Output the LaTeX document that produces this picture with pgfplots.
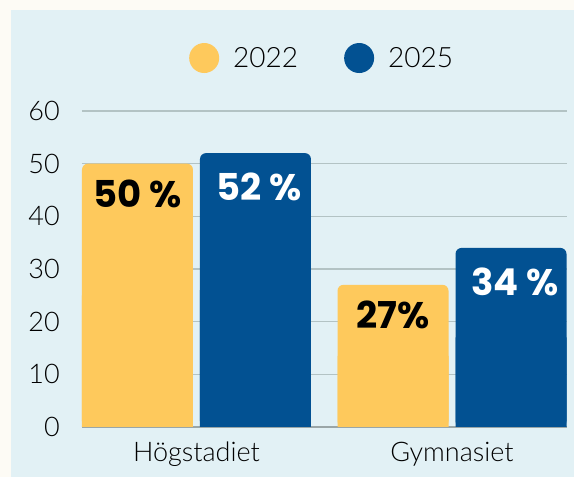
\documentclass[border=0pt]{standalone}
\usepackage{pgfplots}
\pgfplotsset{compat=1.18}
\usepackage{fontspec}
\newfontfamily\lightfont{Lato Light}
\newfontfamily\labfont{Poppins}

\definecolor{bgout}{HTML}{FDFBF5}
\definecolor{panel}{HTML}{E2F1F5}
\definecolor{yel}{HTML}{FEC95C}
\definecolor{navy}{HTML}{025192}
\definecolor{gridc}{HTML}{B3C3C4}
\definecolor{basec}{HTML}{9AA6A7}

\begin{document}
\begin{tikzpicture}
\useasboundingbox (0pt,0pt) rectangle (574pt,477pt);
\fill[bgout] (0pt,0pt) rectangle (574pt,477pt);
\fill[panel] (11pt,0pt) rectangle (574pt,467pt);
\begin{axis}[
    at={(82pt,50pt)}, anchor=south west,
    scale only axis, width=485pt, height=316pt,
    xmin=-0.448, xmax=1.450, ymin=0, ymax=60,
    clip=false,
    ybar, bar width=111pt,
    xtick={0,1}, xticklabels={Högstadiet,Gymnasiet},
    ytick={0,10,...,60},
    major tick length=0pt,
    tick style={draw=none},
    axis line style={draw=none},
    ymajorgrids=true,
    major grid style={gridc, line width=1.2pt},
    extra y ticks={0}, extra y tick labels={},
    extra y tick style={major grid style={basec, line width=2pt}},
    /pgf/number format/assume math mode=true,
    yticklabel style={font=\lightfont\fontsize{27}{27}\selectfont, inner sep=0pt, xshift=-22pt},
    xticklabel style={font=\lightfont\fontsize{27}{27}\selectfont, inner sep=0pt, yshift=-15pt},
    legend style={at={(0.2206,1.1677)}, anchor=west, draw=none, fill=none,
        inner sep=0pt, legend columns=2,
        font=\lightfont\fontsize{28}{28}\selectfont,
        nodes={inner sep=0pt},
        /tikz/every odd column/.append style={column sep=14pt},
        /tikz/every even column/.append style={column sep=46pt}},
]
% square lower halves so only the tops look rounded
\addplot[fill=yel, draw=none, bar shift=-59pt, forget plot,
    y filter/.expression={y/2}] coordinates {(0,50) (1,27)};
\addplot[fill=navy, draw=none, bar shift=59pt, forget plot,
    y filter/.expression={y/2}] coordinates {(0,52) (1,34)};

\addplot[fill=yel, draw=none, bar shift=-59pt, rounded corners=6pt,
    nodes near coords, point meta=explicit symbolic,
    nodes near coords align={anchor=north,yshift=-16pt},
    every node near coord/.append style={font=\labfont\bfseries\fontsize{37}{37}\selectfont, text=black, inner sep=0pt},
    legend image code/.code={\fill[yel] (15pt,0pt) circle (15pt);}]
    coordinates {(0,50) [50 \%] (1,27) [27\%]};
\addplot[fill=navy, draw=none, bar shift=59pt, rounded corners=6pt,
    nodes near coords, point meta=explicit symbolic,
    nodes near coords align={anchor=north,yshift=-20pt,xshift=4pt},
    every node near coord/.append style={font=\labfont\bfseries\fontsize{37}{37}\selectfont, text=white, inner sep=0pt},
    legend image code/.code={\fill[navy] (15pt,0pt) circle (15pt);}]
    coordinates {(0,52) [52 \%] (1,34) [34 \%]};
\legend{2022,2025}
\end{axis}
\end{tikzpicture}
\end{document}
